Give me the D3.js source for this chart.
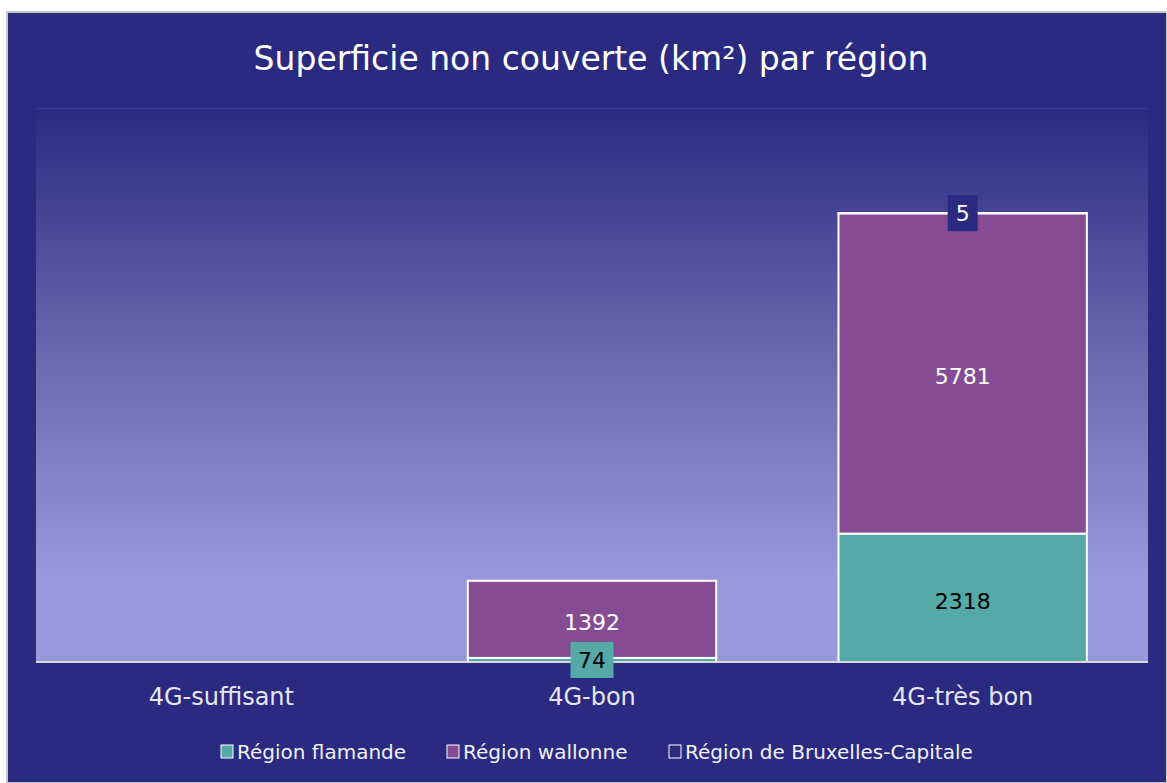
<!DOCTYPE html>
<html>
<head>
<meta charset="utf-8">
<script src="https://cdn.jsdelivr.net/npm/d3@7"></script>
<style>
  body { margin: 0; background: #fff; }
  svg text { font-family: "DejaVu Sans", Verdana, sans-serif; }
</style>
</head>
<body>
<svg id="chart" width="1167" height="783"></svg>
<script>
// data
const categories = ["4G-suffisant", "4G-bon", "4G-très bon"];
const seriesNames = ["Région flamande", "Région wallonne", "Région de Bruxelles-Capitale"];
const flamande = [0, 74, 2318];
const wallonne = [0, 1392, 5781];
const bruxelles = [0, 0, 5];
const colors = ["#55aaa8", "#864c93", "#ffffff"];
const labelFill = ["#000", "#fff", "#fff"];

const W = 1167, H = 783;
const svg = d3.select("#chart");
const margin = {left: 36, right: 19, top: 108, bottom: 121};

// frame
svg.append("rect").attr("x", 7).attr("y", 12).attr("width", W - 7).attr("height", H - 12)
  .attr("fill", "#2a2a80").attr("stroke", "#c8c8c8").attr("stroke-width", 2);

svg.append("text")
  .attr("x", 591).attr("y", 70)
  .attr("text-anchor", "middle")
  .attr("fill", "#fff")
  .attr("font-size", 33)
  .text("Superficie non couverte (km²) par région");

const x = d3.scaleBand().domain(categories)
  .range([margin.left, W - margin.right]).paddingInner(0.33).paddingOuter(0.165);
const y = d3.scaleLinear().domain([0, 10000]).range([H - margin.bottom, margin.top]);

// plot background gradient
const defs = svg.append("defs");
const grad = defs.append("linearGradient").attr("id", "bg").attr("x1", 0).attr("y1", 0).attr("x2", 0).attr("y2", 1);
grad.append("stop").attr("offset", "0%").attr("stop-color", "#2a2a80");
grad.append("stop").attr("offset", "45%").attr("stop-color", "#6a6ab0");
grad.append("stop").attr("offset", "85%").attr("stop-color", "#9898dc");
grad.append("stop").attr("offset", "100%").attr("stop-color", "#9898dd");
svg.append("rect")
  .attr("x", margin.left).attr("y", margin.top)
  .attr("width", W - margin.left - margin.right).attr("height", y(0) - margin.top)
  .attr("fill", "url(#bg)");
svg.append("line")
  .attr("x1", margin.left).attr("x2", W - margin.right)
  .attr("y1", margin.top + 0.5).attr("y2", margin.top + 0.5)
  .attr("stroke", "#3a3a90").attr("stroke-width", 1.5);

// stacked bars
const rows = categories.map((c, i) => ({cat: c, a: flamande[i], b: wallonne[i], c: bruxelles[i]}));
const stack = d3.stack().keys(["a", "b", "c"])(rows);

const layers = svg.selectAll("g.layer").data(stack).join("g").attr("class", "layer")
  .attr("fill", (d, i) => colors[i]);
layers.selectAll("rect").data(d => d.filter(s => s[1] - s[0] > 0)).join("rect")
  .attr("x", d => x(d.data.cat))
  .attr("width", x.bandwidth())
  .attr("y", d => y(d[1]))
  .attr("height", d => y(d[0]) - y(d[1]))
  .attr("stroke", "#fff").attr("stroke-width", 2);

// axis
svg.append("line")
  .attr("x1", margin.left).attr("x2", W - margin.right)
  .attr("y1", y(0)).attr("y2", y(0))
  .attr("stroke", "#d9d9d9").attr("stroke-width", 2);
const xAxis = svg.append("g").attr("transform", `translate(0,${y(0)})`)
  .call(d3.axisBottom(x).tickSize(0).tickPadding(26));
xAxis.select(".domain").remove();
xAxis.selectAll("text").attr("fill", "#e6e6f2").attr("font-size", 24)
  .attr("font-family", "DejaVu Sans Condensed, DejaVu Sans, sans-serif");

// data labels
stack.forEach((layer, li) => {
  layer.forEach(s => {
    const v = s[1] - s[0];
    if (v <= 0) return;
    const cx = x(s.data.cat) + x.bandwidth() / 2;
    const cy = (y(s[0]) + y(s[1])) / 2;
    const txt = String(v);
    const small = (y(s[0]) - y(s[1])) < 30;
    const g = svg.append("g").attr("transform", `translate(${cx},${cy})`);
    if (small) {
      const w = txt.length * 13 + 17;
      g.append("rect").attr("x", -w / 2).attr("y", -18).attr("width", w).attr("height", 36)
        .attr("fill", li === 0 ? colors[0] : "#2a2a80");
    }
    g.append("text").attr("text-anchor", "middle").attr("dy", small ? "0.36em" : "0.5em")
      .attr("font-size", 22)
      .attr("fill", labelFill[li])
      .text(txt);
  });
});

// legend
const legendX = [221, 447, 669];
const leg = svg.append("g").attr("transform", "translate(0,752)");
seriesNames.forEach((name, i) => {
  const g = leg.append("g").attr("transform", `translate(${legendX[i]},0)`);
  g.append("rect").attr("x", 0).attr("y", -7).attr("width", 12).attr("height", 13)
    .attr("fill", i === 2 ? "#2a2a80" : colors[i]).attr("stroke", "#fff").attr("stroke-width", 1);
  g.append("text").attr("x", 16).attr("dy", "0.36em").attr("fill", "#f0f0f8")
    .attr("font-size", 20)
    .attr("font-family", "DejaVu Sans Condensed, DejaVu Sans, sans-serif")
    .text(name);
});
</script>
</body>
</html>
